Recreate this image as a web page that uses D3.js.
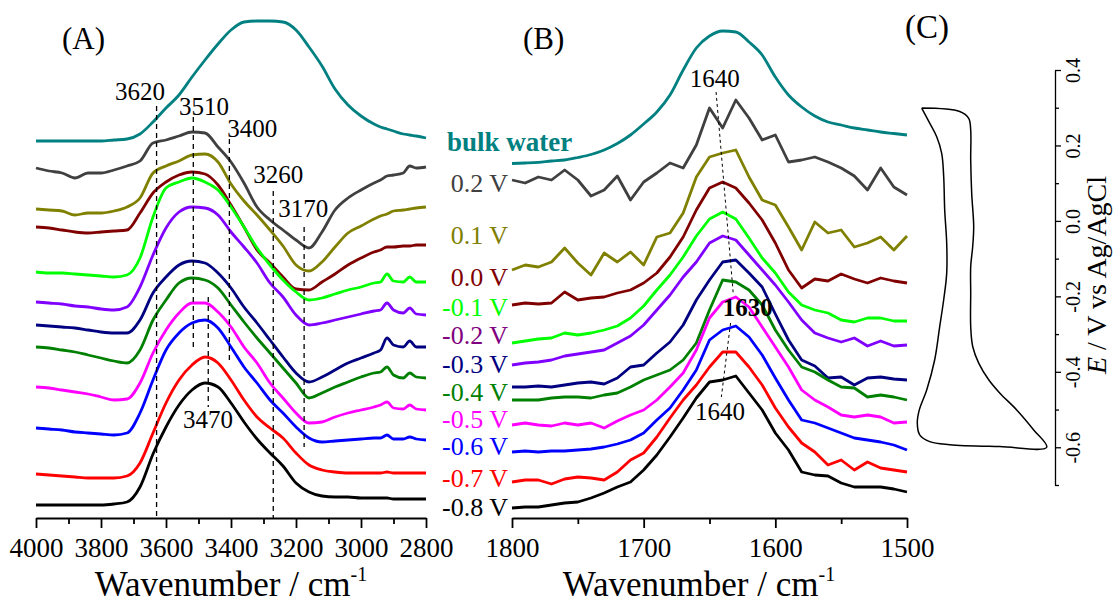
<!DOCTYPE html>
<html>
<head>
<meta charset="utf-8">
<script src="https://cdn.jsdelivr.net/npm/d3@7"></script>
<style>
  body { margin: 0; background: #fff; }
  svg { display: block; font-family: "Liberation Serif", "Times New Roman", serif; }
</style>
</head>
<body>
<svg id="fig" width="1113" height="603"></svg>
<script>
// ---- données ----
// (A) région O-H, nombres d'onde (cm-1)
const waveA = [4000, 3960, 3920, 3880, 3840, 3800, 3760, 3720, 3680, 3640, 3600, 3560, 3520, 3480, 3440, 3400, 3360,
  3320, 3280, 3240, 3200, 3160, 3120, 3080, 3040, 3000, 2960, 2940, 2920, 2900, 2870, 2850, 2830, 2800];
// intensités décalées (unités arbitraires)
const bulkA = [379, 379, 379, 379, 379, 379, 380, 381, 386, 398, 412, 425, 443, 460, 476, 490, 498, 499, 499, 498, 490, 473, 454, 431, 415, 404, 396, 393, 391, 389, 386, 385, 384, 382];
const v02A = [352, 349, 347, 342, 347, 347, 350, 354, 359, 377, 380, 384, 388, 387, 373, 358, 337, 313, 300, 290, 280, 272, 288, 310, 322, 330, 337, 340, 344, 345, 347, 354, 352, 353];
const v01A = [311, 310, 309, 305, 307, 307, 309, 313, 322, 347, 354, 359, 365, 366, 358, 336, 319, 305, 290, 274, 255, 249, 258, 273, 287, 294, 301, 304, 306, 309, 310, 311, 312, 313];
const v00A = [293, 292, 290, 288, 287, 288, 289, 290, 307, 327, 338, 345, 348, 346, 335, 315, 293, 270, 257, 243, 231, 230, 238, 246, 255, 262, 268, 270, 273, 273, 274, 274, 275, 275];
const vm01A = [248, 247, 247, 246, 245, 244, 243, 245, 262, 303, 332, 338, 342, 338, 330, 313, 293, 272, 255, 240, 228, 220, 222, 226, 230, 233, 237, 238, 246, 239, 238, 243, 238, 238];
const vm02A = [218, 217, 216, 214, 213, 211, 210, 213, 233, 265, 292, 308, 313, 312, 305, 288, 273, 257, 237, 223, 205, 195, 197, 200, 203, 206, 209, 210, 217, 210, 207, 212, 206, 205];
const vm03A = [195, 194, 193, 192, 190, 188, 187, 187, 200, 227, 243, 255, 259, 257, 247, 232, 213, 197, 180, 163, 147, 138, 143, 150, 157, 162, 167, 170, 182, 175, 173, 179, 173, 173];
const vm04A = [173, 172, 170, 168, 165, 162, 159, 157, 170, 200, 220, 237, 242, 240, 232, 215, 198, 182, 167, 152, 137, 122, 127, 133, 138, 143, 147, 148, 153, 145, 142, 147, 143, 142];
const vm05A = [133, 132, 130, 128, 126, 123, 120, 121, 137, 167, 190, 207, 217, 217, 208, 193, 173, 157, 137, 122, 107, 97, 98, 103, 107, 110, 113, 115, 118, 112, 111, 115, 111, 110];
const vm06A = [92, 91, 90, 88, 87, 86, 85, 87, 107, 140, 170, 187, 197, 200, 192, 173, 153, 137, 120, 107, 93, 82, 78, 79, 80, 81, 82, 82, 85, 81, 81, 83, 81, 80];
const vm07A = [46, 45, 44, 43, 42, 42, 42, 44, 57, 87, 117, 140, 155, 163, 157, 140, 120, 103, 92, 82, 67, 55, 50, 48, 47, 47, 47, 47, 48, 47, 47, 47, 47, 47];
const vm08A = [15, 15, 15, 15, 15, 15, 16, 18, 33, 66, 93, 115, 130, 137, 133, 117, 98, 81, 67, 54, 37, 28, 24, 23, 23, 22, 22, 22, 22, 21, 21, 21, 21, 21];

// (B) région H-O-H
const waveB = [1800, 1790, 1780, 1770, 1760, 1750, 1740, 1730, 1720, 1710, 1700, 1690, 1680, 1670, 1660, 1650,
  1640, 1630, 1620, 1610, 1600, 1590, 1580, 1570, 1560, 1550, 1540, 1530, 1520, 1510, 1500];
const bulkB = [356.5, 357, 357.7, 359, 360, 362.5, 365.5, 370, 376.5, 385, 396, 408, 425, 450, 472, 484, 489, 488, 478, 465, 443, 425, 413, 404, 398, 395, 392, 390, 388, 386.5, 385];
const v02B = [340, 337, 343, 340, 350, 340, 324, 330, 344, 320, 338, 347, 357, 352, 375, 412, 392, 420, 402, 380, 385, 358, 360, 363, 358, 352, 344, 330, 352, 333, 325];
const v01B = [250, 255, 253, 258, 272, 257, 245, 267, 258, 268, 255, 283, 287, 307, 343, 363, 367, 370, 343, 320, 315, 293, 270, 298, 287, 290, 273, 277, 283, 270, 284];
const v00B = [215, 217, 216, 217, 228, 220, 222, 223, 227, 230, 237, 247, 263, 283, 310, 332, 338, 332, 317, 300, 277, 250, 232, 241, 239, 246, 241, 237, 242, 239, 237];
const vm01B = [177, 179, 181, 182, 187, 185, 187, 190, 194, 202, 214, 230, 245, 263, 284, 301, 308, 301, 282, 262, 247, 228, 215, 210, 207, 200, 198, 202, 202, 199, 199];
const vm02B = [155, 157, 158, 160, 164, 166, 168, 170, 177, 184, 195, 210, 225, 243, 258, 277, 284, 280, 265, 250, 235, 218, 200, 187, 182, 178, 182, 174, 179, 174, 175];
const vm03B = [133, 133, 134, 133, 135, 137, 138, 136, 142, 153, 155, 167, 178, 195, 220, 240, 258, 260, 247, 233, 206, 180, 160, 154, 142, 143, 135, 142, 143, 141, 140];
const vm04B = [120, 120, 120, 122, 123, 123, 122, 125, 127, 133, 140, 145, 150, 160, 177, 210, 240, 238, 230, 215, 190, 170, 153, 148, 140, 133, 132, 123, 125, 123, 120];
const vm05B = [95, 97, 95, 94, 97, 95, 97, 92, 99, 105, 110, 120, 133, 147, 170, 202, 218, 223, 213, 193, 173, 153, 130, 120, 113, 105, 103, 105, 103, 97, 98];
const vm06B = [68, 69, 68, 69, 69, 70, 71, 73, 76, 80, 87, 100, 112, 130, 150, 180, 190, 194, 183, 165, 142, 120, 100, 97, 92, 87, 82, 80, 78, 75, 70];
const vm07B = [38, 40, 40, 36, 41, 43, 42, 40, 48, 60, 67, 83, 102, 120, 135, 153, 168, 168, 153, 135, 112, 93, 77, 68, 55, 60, 50, 58, 52, 50, 48];
const vm08B = [12, 13, 13, 15, 17, 18, 22, 27, 33, 38, 50, 65, 83, 102, 122, 138, 140, 144, 127, 110, 87, 70, 48, 45, 44, 37, 33, 33, 33, 31, 28];

const seriesNames = ["bulk water", "0.2 V", "0.1 V", "0.0 V", "-0.1 V", "-0.2 V", "-0.3 V", "-0.4 V", "-0.5 V", "-0.6 V", "-0.7 V", "-0.8 V"];
const seriesA = [bulkA, v02A, v01A, v00A, vm01A, vm02A, vm03A, vm04A, vm05A, vm06A, vm07A, vm08A];
const seriesB = [bulkB, v02B, v01B, v00B, vm01B, vm02B, vm03B, vm04B, vm05B, vm06B, vm07B, vm08B];

// (C) voltampérogramme : courant (u.a.) et potentiel (V vs Ag/AgCl)
const cvCurrent = [5, 43, 52, 54, 54, 55, 57, 56, 54, 54, 54, 56, 62, 72, 83, 100, 117, 130, 83, 33, 13, 3, 0.6, 2.6, 10, 18, 23, 27, 30, 30, 28, 27, 25, 20, 13, 5];
const cvPotential = [0.299, 0.290, 0.272, 0.241, 0.162, 0.073, -0.015, -0.068, -0.121, -0.192, -0.280, -0.333, -0.377, -0.421, -0.456, -0.501, -0.554, -0.600,
  -0.598, -0.593, -0.585, -0.567, -0.536, -0.501, -0.448, -0.368, -0.280, -0.209, -0.139, -0.059, 0.029, 0.117, 0.179, 0.223, 0.259, 0.299];

// ticks
const majorA = [4000, 3800, 3600, 3400, 3200, 3000, 2800];
const minorA = [3900, 3700, 3500, 3300, 3100, 2900];
const majorB = [1800, 1700, 1600, 1500];
const minorB = [1750, 1650, 1550];
const majorE = [0.4, 0.2, 0.0, -0.2, -0.4, -0.6];
const minorE = [0.3, 0.1, -0.1, -0.3, -0.5, -0.7];

// repères pointillés et étiquettes de pics
const dashWaveA = [3629, 3516, 3405, 3270, 3175, 3470];
const dashTopA = [414, 403, 381, 329, 293, 223];
const dashBotA = [2, 170, 158, 2, 73, 113];
const peakTextA = ["3620", "3510", "3400", "3260", "3170", "3470"];
const peakWaveA = [3680, 3483, 3335, 3255, 3178, 3471];
const peakLevelA = [420, 405, 383, 337, 303, 92];

const dashB = [[[1645, 428], [1632, 227]], [[1634, 197], [1641, 123]]];
const peakTextB = ["1640", "1630", "1640"];
const peakWaveB = [1646, 1621, 1642];
const peakLevelB = [433, 204, 100];

// ---- styles ----
const lineColors = ["#008080", "#404040", "#808000", "#800000", "#00ff00", "#8000ff", "#000080", "#008000", "#ff00ff", "#0000ff", "#ff0000", "#000000"];
const labelColors = ["#008080", "#404040", "#808000", "#800000", "#00ff00", "#800080", "#000080", "#008000", "#ff00ff", "#0000ff", "#ff0000", "#000000"];
const labelBaseline = [151, 192, 244, 286, 316, 344, 373, 401, 428, 455, 487, 516];

const svg = d3.select("#fig");
const axisY = 518;

let xA = d3.scaleLinear().domain([4000, 2800]).range([36, 426]);
let xB = d3.scaleLinear().domain([1800, 1500]).range([512, 907]);
let yS = d3.scaleLinear().domain([0, 500]).range([520, 20]);
let eC = d3.scaleLinear().domain([0.4, -0.7]).range([70, 485]);
let iC = d3.scaleLinear().domain([0, 130]).range([916.7, 1046.7]);

// spectres : courbe lissée pour (A) et l'eau pure, segments bruts pour (B)
function dessineSpectres(x, grid, series, lisse) {
    let g = svg.append("g");
    g.selectAll("path")
        .data(series)
        .join("path")
        .attr("d", (d, i) => d3.line()
            .curve(lisse || i == 0 ? d3.curveMonotoneX : d3.curveLinear)
            .x((v, j) => x(grid[j]))
            .y(v => yS(v))(d))
        .attr("fill", "none")
        .attr("stroke", (d, i) => lineColors[i])
        .attr("stroke-width", 2.8)
        .attr("stroke-linejoin", "round");
}
dessineSpectres(xA, waveA, seriesA, true);
dessineSpectres(xB, waveB, seriesB, false);

// pointillés (A)
svg.append("g").selectAll("line")
    .data(dashWaveA)
    .join("line")
    .attr("x1", d => xA(d)).attr("x2", d => xA(d))
    .attr("y1", (d, i) => yS(dashTopA[i]))
    .attr("y2", (d, i) => yS(dashBotA[i]))
    .attr("stroke", "black")
    .attr("stroke-width", 1.3)
    .attr("stroke-dasharray", "5,4");

svg.append("g").selectAll("text")
    .data(peakTextA)
    .join("text")
    .attr("x", (d, i) => xA(peakWaveA[i]))
    .attr("y", (d, i) => yS(peakLevelA[i]))
    .attr("text-anchor", "middle")
    .attr("font-size", 25)
    .text(d => d);

// pointillés (B)
svg.append("g").selectAll("line")
    .data(dashB)
    .join("line")
    .attr("x1", d => xB(d[0][0])).attr("y1", d => yS(d[0][1]))
    .attr("x2", d => xB(d[1][0])).attr("y2", d => yS(d[1][1]))
    .attr("stroke", "black")
    .attr("stroke-width", 1)
    .attr("stroke-dasharray", "3,3");

svg.append("g").selectAll("text")
    .data(peakTextB)
    .join("text")
    .attr("x", (d, i) => xB(peakWaveB[i]))
    .attr("y", (d, i) => yS(peakLevelB[i]))
    .attr("text-anchor", "middle")
    .attr("font-size", 25)
    .attr("font-weight", (d, i) => i == 1 ? "bold" : "normal")
    .text(d => d);

// étiquettes des potentiels
svg.append("g").selectAll("text")
    .data(seriesNames)
    .join("text")
    .attr("x", (d, i) => i == 0 ? 447 : 508)
    .attr("y", (d, i) => labelBaseline[i])
    .attr("text-anchor", (d, i) => i == 0 ? "start" : "end")
    .attr("font-size", (d, i) => i == 0 ? 27 : 26)
    .attr("font-weight", (d, i) => i == 0 ? "bold" : "normal")
    .attr("fill", (d, i) => labelColors[i])
    .text(d => d);

// axes des abscisses
function axeBas(x, major, minor) {
    let g = svg.append("g").attr("transform", `translate(0,${axisY})`);
    g.call(d3.axisBottom(x).tickValues(major).tickSize(10).tickSizeOuter(0).tickFormat(d => d));
    g.attr("font-family", null).attr("font-size", 27);
    g.selectAll("text").attr("y", 39).attr("dy", null);
    let gm = svg.append("g").attr("transform", `translate(0,${axisY})`);
    gm.call(d3.axisBottom(x).tickValues(minor).tickSize(6).tickFormat(""));
    gm.select(".domain").remove();
    svg.selectAll(".tick line, .domain").attr("stroke-width", 1.8);
}
axeBas(xA, majorA, minorA);
axeBas(xB, majorB, minorB);

function titreBas(cx) {
    let t = svg.append("text")
        .attr("x", cx).attr("y", 596)
        .attr("text-anchor", "middle")
        .attr("font-size", 35);
    t.append("tspan").text("Wavenumber / cm");
    t.append("tspan").attr("dy", -15).attr("font-size", 20).text("-1");
}
titreBas(231);
titreBas(699);

// (C) voltampérogramme
svg.append("path")
    .datum(cvCurrent)
    .attr("d", d3.line().curve(d3.curveCatmullRom.alpha(0.5)).x(d => iC(d)).y((d, i) => eC(cvPotential[i])))
    .attr("fill", "none")
    .attr("stroke", "black")
    .attr("stroke-width", 1.5);

let gE = svg.append("g").attr("transform", "translate(1055,0)");
gE.call(d3.axisRight(eC).tickValues(majorE).tickSize(6).tickSizeOuter(0).tickFormat(d => d.toFixed(1)));
gE.attr("font-family", null).attr("font-size", 20);
gE.selectAll("text")
    .attr("x", 0).attr("y", 25).attr("dy", null)
    .attr("text-anchor", "middle")
    .attr("transform", "rotate(-90)");
let gEm = svg.append("g").attr("transform", "translate(1055,0)");
gEm.call(d3.axisRight(eC).tickValues(minorE).tickSize(4).tickFormat(""));
gEm.select(".domain").remove();
gE.selectAll("line, path").attr("stroke-width", 1.3);
gEm.selectAll("line").attr("stroke-width", 1.3);

let tE = svg.append("text")
    .attr("transform", "translate(1106,275) rotate(-90)")
    .attr("text-anchor", "middle")
    .attr("font-size", 28);
tE.append("tspan").attr("font-style", "italic").text("E");
tE.append("tspan").text(" / V vs Ag/AgCl");

// lettres des panneaux
svg.append("text").attr("x", 62).attr("y", 49).attr("font-size", 31).text("(A)");
svg.append("text").attr("x", 523).attr("y", 49).attr("font-size", 31).text("(B)");
svg.append("text").attr("x", 905).attr("y", 38).attr("font-size", 33).text("(C)");
</script>
</body>
</html>
